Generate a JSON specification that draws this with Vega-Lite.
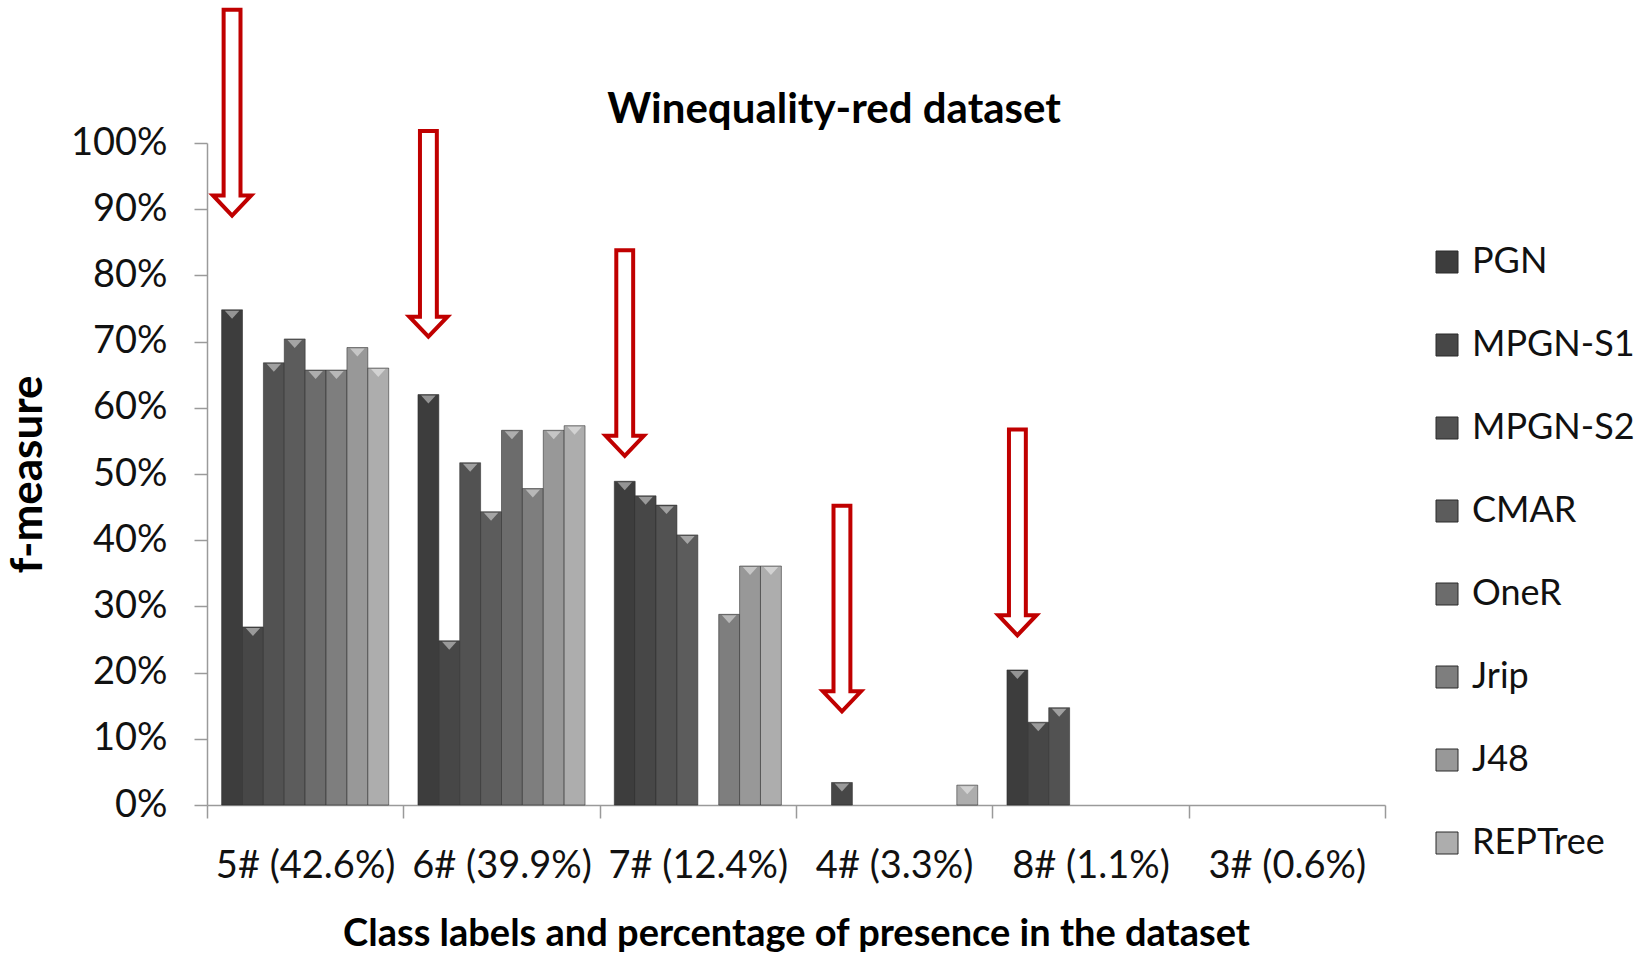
{
  "$schema": "https://vega.github.io/schema/vega-lite/v6.json",
  "autosize": {"type": "none"},
  "width": 1178,
  "height": 662,
  "padding": {"left": 207, "top": 143, "right": 258, "bottom": 150},
  "background": "white",
  "config": {
    "font": "Lato",
    "view": {"stroke": null},
    "axis": {
      "domainColor": "#9a9a9a",
      "domainWidth": 1.5,
      "tickColor": "#9a9a9a",
      "tickWidth": 1.5,
      "tickSize": 13,
      "labelFont": "Lato",
      "labelFontSize": 38,
      "labelColor": "#111111",
      "titleFont": "Lato",
      "titleFontWeight": "bold",
      "titleFontSize": 38,
      "titleColor": "#000000",
      "grid": false
    }
  },
  "title": {
    "text": "Winequality-red dataset",
    "font": "Lato",
    "fontSize": 42,
    "fontWeight": "bold",
    "color": "#000000",
    "anchor": "middle",
    "frame": "group",
    "baseline": "alphabetic",
    "offset": 0,
    "dx": 38,
    "dy": 163
  },
  "datasets": {
    "scores": [
      {"cls": "5# (42.6%)", "method": "PGN", "value": 0.748},
      {"cls": "5# (42.6%)", "method": "MPGN-S1", "value": 0.269},
      {"cls": "5# (42.6%)", "method": "MPGN-S2", "value": 0.668},
      {"cls": "5# (42.6%)", "method": "CMAR", "value": 0.704},
      {"cls": "5# (42.6%)", "method": "OneR", "value": 0.657},
      {"cls": "5# (42.6%)", "method": "Jrip", "value": 0.657},
      {"cls": "5# (42.6%)", "method": "J48", "value": 0.691},
      {"cls": "5# (42.6%)", "method": "REPTree", "value": 0.66},
      {"cls": "6# (39.9%)", "method": "PGN", "value": 0.62},
      {"cls": "6# (39.9%)", "method": "MPGN-S1", "value": 0.248},
      {"cls": "6# (39.9%)", "method": "MPGN-S2", "value": 0.517},
      {"cls": "6# (39.9%)", "method": "CMAR", "value": 0.443},
      {"cls": "6# (39.9%)", "method": "OneR", "value": 0.566},
      {"cls": "6# (39.9%)", "method": "Jrip", "value": 0.478},
      {"cls": "6# (39.9%)", "method": "J48", "value": 0.566},
      {"cls": "6# (39.9%)", "method": "REPTree", "value": 0.573},
      {"cls": "7# (12.4%)", "method": "PGN", "value": 0.489},
      {"cls": "7# (12.4%)", "method": "MPGN-S1", "value": 0.467},
      {"cls": "7# (12.4%)", "method": "MPGN-S2", "value": 0.453},
      {"cls": "7# (12.4%)", "method": "CMAR", "value": 0.408},
      {"cls": "7# (12.4%)", "method": "OneR", "value": 0},
      {"cls": "7# (12.4%)", "method": "Jrip", "value": 0.288},
      {"cls": "7# (12.4%)", "method": "J48", "value": 0.361},
      {"cls": "7# (12.4%)", "method": "REPTree", "value": 0.361},
      {"cls": "4# (3.3%)", "method": "PGN", "value": 0},
      {"cls": "4# (3.3%)", "method": "MPGN-S1", "value": 0.034},
      {"cls": "4# (3.3%)", "method": "MPGN-S2", "value": 0},
      {"cls": "4# (3.3%)", "method": "CMAR", "value": 0},
      {"cls": "4# (3.3%)", "method": "OneR", "value": 0},
      {"cls": "4# (3.3%)", "method": "Jrip", "value": 0},
      {"cls": "4# (3.3%)", "method": "J48", "value": 0},
      {"cls": "4# (3.3%)", "method": "REPTree", "value": 0.03},
      {"cls": "8# (1.1%)", "method": "PGN", "value": 0.204},
      {"cls": "8# (1.1%)", "method": "MPGN-S1", "value": 0.125},
      {"cls": "8# (1.1%)", "method": "MPGN-S2", "value": 0.147},
      {"cls": "8# (1.1%)", "method": "CMAR", "value": 0},
      {"cls": "8# (1.1%)", "method": "OneR", "value": 0},
      {"cls": "8# (1.1%)", "method": "Jrip", "value": 0},
      {"cls": "8# (1.1%)", "method": "J48", "value": 0},
      {"cls": "8# (1.1%)", "method": "REPTree", "value": 0},
      {"cls": "3# (0.6%)", "method": "PGN", "value": 0},
      {"cls": "3# (0.6%)", "method": "MPGN-S1", "value": 0},
      {"cls": "3# (0.6%)", "method": "MPGN-S2", "value": 0},
      {"cls": "3# (0.6%)", "method": "CMAR", "value": 0},
      {"cls": "3# (0.6%)", "method": "OneR", "value": 0},
      {"cls": "3# (0.6%)", "method": "Jrip", "value": 0},
      {"cls": "3# (0.6%)", "method": "J48", "value": 0},
      {"cls": "3# (0.6%)", "method": "REPTree", "value": 0}
    ],
    "arrows": [
      {"cls": "5# (42.6%)", "method": "PGN", "pos": 1.045},
      {"cls": "6# (39.9%)", "method": "PGN", "pos": 0.862},
      {"cls": "7# (12.4%)", "method": "PGN", "pos": 0.682},
      {"cls": "4# (3.3%)", "method": "MPGN-S1", "pos": 0.296},
      {"cls": "8# (1.1%)", "method": "PGN", "pos": 0.411}
    ]
  },
  "layer": [
    {
      "data": {"name": "scores"},
      "transform": [{"filter": "datum.value > 0"}],
      "mark": {"type": "bar", "stroke": "#2a2a2a", "strokeWidth": 1, "strokeOpacity": 0.55},
      "encoding": {
        "x": {
          "field": "cls",
          "type": "nominal",
          "scale": {"domain": ["5# (42.6%)", "6# (39.9%)", "7# (12.4%)", "4# (3.3%)", "8# (1.1%)", "3# (0.6%)"], "paddingInner": 0, "paddingOuter": 0},
          "axis": {
            "title": "Class labels and percentage of presence in the dataset",
            "labelAngle": 0,
            "tickBand": "extent",
            "labelPadding": 29,
            "titlePadding": 30
          }
        },
        "xOffset": {
          "field": "method",
          "type": "nominal",
          "scale": {"domain": ["PGN", "MPGN-S1", "MPGN-S2", "CMAR", "OneR", "Jrip", "J48", "REPTree"], "paddingInner": 0, "paddingOuter": 0.7}
        },
        "y": {
          "field": "value",
          "type": "quantitative",
          "scale": {"domain": [0, 1], "nice": false},
          "axis": {
            "title": "f-measure",
            "titleFontSize": 44,
            "format": ".0%",
            "values": [0, 0.1, 0.2, 0.3, 0.4, 0.5, 0.6, 0.7, 0.8, 0.9, 1],
            "labelPadding": 27,
            "titlePadding": 20
          }
        },
        "color": {
          "field": "method",
          "type": "nominal",
          "scale": {
            "domain": ["PGN", "MPGN-S1", "MPGN-S2", "CMAR", "OneR", "Jrip", "J48", "REPTree"],
            "range": ["#3d3d3d", "#474747", "#525252", "#5c5c5c", "#6c6c6c", "#7e7e7e", "#989898", "#adadad"]
          },
          "legend": {
            "title": null,
            "orient": "none",
            "legendX": 1222,
            "legendY": 101,
            "padding": 0,
            "symbolType": "square",
            "symbolSize": 484,
            "symbolStrokeColor": "#2a2a2a",
            "symbolStrokeWidth": 1,
            "labelFont": "Lato",
            "labelFontSize": 36,
            "labelColor": "#111111",
            "labelOffset": 7,
            "labelLimit": 0,
            "rowPadding": 47
          }
        }
      }
    },
    {
      "data": {"name": "scores"},
      "transform": [{"filter": "datum.value > 0"}],
      "mark": {"type": "point", "shape": "M-1,-0.55L1,-0.55L0,0.55Z", "size": 210, "filled": true, "fill": "#ffffff", "opacity": 0.45, "strokeWidth": 0, "yOffset": 5},
      "encoding": {
        "x": {"field": "cls", "type": "nominal"},
        "xOffset": {"field": "method", "type": "nominal"},
        "y": {"field": "value", "type": "quantitative"}
      }
    },
    {
      "data": {"name": "arrows"},
      "mark": {"type": "point", "shape": "M-0.08,-0.98L0.08,-0.98L0.08,0.78L0.181,0.78L0,0.97L-0.181,0.78L-0.08,0.78Z", "size": 44521, "filled": false, "fill": "#ffffff", "fillOpacity": 1, "stroke": "#c00000", "strokeWidth": 4, "opacity": 1, "strokeJoin": "miter"},
      "encoding": {
        "x": {"field": "cls", "type": "nominal"},
        "xOffset": {"field": "method", "type": "nominal"},
        "y": {"field": "pos", "type": "quantitative"}
      }
    }
  ]
}
